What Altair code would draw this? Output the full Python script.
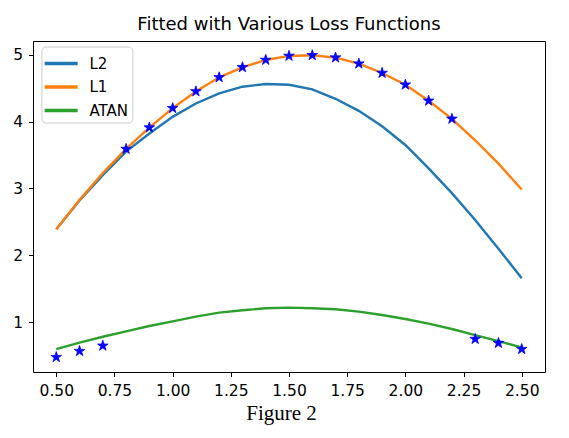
import pandas as pd
import altair as alt

# sample points
x_vals = [0.5, 0.6, 0.7, 0.8, 0.9, 1.0, 1.1, 1.2, 1.3, 1.4, 1.5,
          1.6, 1.7, 1.8, 1.9, 2.0, 2.1, 2.2, 2.3, 2.4, 2.5]
star_y = [0.48, 0.57, 0.65, 3.59, 3.91, 4.20, 4.45, 4.66, 4.81, 4.92, 4.98,
          4.99, 4.955, 4.865, 4.725, 4.55, 4.31, 4.04, 0.75, 0.69, 0.60]

# fitted curves
l2_y = [2.39, 2.82, 3.20, 3.55, 3.82, 4.07, 4.27, 4.42, 4.52, 4.56, 4.55,
        4.48, 4.34, 4.16, 3.93, 3.65, 3.30, 2.93, 2.53, 2.10, 1.66]
l1_y = [2.39, 2.83, 3.23, 3.59, 3.91, 4.20, 4.45, 4.66, 4.81, 4.92, 4.98,
        4.99, 4.955, 4.865, 4.725, 4.55, 4.31, 4.04, 3.72, 3.37, 2.985]
atan_y = [0.60, 0.696, 0.785, 0.865, 0.945, 1.015, 1.085, 1.145, 1.18, 1.21, 1.22,
          1.21, 1.195, 1.16, 1.11, 1.05, 0.98, 0.90, 0.81, 0.72, 0.625]

series_names = ["L2", "L1", "ATAN"]
series_colors = ["#1f77b4", "#ff7f0e", "#2ca02c"]

x_ticks = [0.5, 0.75, 1.0, 1.25, 1.5, 1.75, 2.0, 2.25, 2.5]
y_ticks = [1, 2, 3, 4, 5]

# matplotlib-like '*' marker as a vega custom symbol path
STAR = ("M0,-1L0.2245,-0.309L0.9511,-0.309L0.3633,0.118L0.5878,0.809"
        "L0,0.382L-0.5878,0.809L-0.3633,0.118L-0.9511,-0.309L-0.2245,-0.309Z")
LEGEND_LINE = "M-1.25,0L1.75,0"


def make_chart():
    # long format for the three fitted lines
    rows = []
    for name, ys in zip(series_names, [l2_y, l1_y, atan_y]):
        for x, y in zip(x_vals, ys):
            rows.append({"x": x, "y": y, "series": name})
    lines_df = pd.DataFrame(rows)
    stars_df = pd.DataFrame({"x": x_vals, "y": star_y})

    x_scale = alt.Scale(domain=[0.4, 2.6], nice=False, zero=False)
    y_scale = alt.Scale(domain=[0.258, 5.203], nice=False, zero=False)

    lines = (
        alt.Chart(lines_df)
        .mark_line(strokeWidth=2.4)
        .encode(
            x=alt.X(
                "x:Q",
                scale=x_scale,
                axis=alt.Axis(
                    values=x_ticks, format=".2f", title="Figure 2",
                    titleX=248, titleY=47, titleBaseline="alphabetic",
                    titleAlign="center", titleFont="Liberation Serif",
                    titleFontSize=21, titleFontWeight="normal",
                    labelPadding=7,
                ),
            ),
            y=alt.Y(
                "y:Q",
                scale=y_scale,
                axis=alt.Axis(values=y_ticks, format="d", title=None,
                              labelPadding=6),
            ),
            color=alt.Color(
                "series:N",
                scale=alt.Scale(domain=series_names, range=series_colors),
                sort=series_names,
                legend=alt.Legend(
                    title=None, orient="none", legendX=8.4, legendY=5.5,
                    symbolType=LEGEND_LINE, symbolSize=484,
                    symbolStrokeWidth=3.4, labelOffset=18,
                    labelFontSize=15, labelFont="DejaVu Sans",
                    labelColor="black", padding=4, rowPadding=2.5,
                    fillColor="rgba(255,255,255,0.8)",
                    strokeColor="#cccccc", cornerRadius=4,
                ),
            ),
        )
    )

    stars = (
        alt.Chart(stars_df)
        .mark_point(shape=STAR, filled=True, size=125, color="#0000ff",
                    opacity=1, stroke="#0000ff", strokeWidth=0.8)
        .encode(x=alt.X("x:Q", scale=x_scale), y=alt.Y("y:Q", scale=y_scale))
    )

    chart = (lines + stars).properties(
        width=512,
        height=331,
        title=alt.TitleParams(
            "Fitted with Various Loss Functions", fontSize=18,
            font="DejaVu Sans", fontWeight="normal", color="black",
            offset=7, anchor="middle",
        ),
        autosize=alt.AutoSizeParams(type="none"),
        padding={"left": 25, "top": 33, "right": 10, "bottom": 54},
    )
    return chart


def main():
    chart = make_chart().configure(background="white").configure_view(
        stroke="black", strokeWidth=1
    ).configure_axis(
        domain=False, grid=False, tickColor="black", tickSize=4.5,
        labelColor="black", labelFont="DejaVu Sans", labelFontSize=15.5,
        labelOverlap=False, titleColor="black",
    )
    chart.save("out.html", embed_options={"renderer": "svg", "actions": False})


if __name__ == "__main__":
    main()
